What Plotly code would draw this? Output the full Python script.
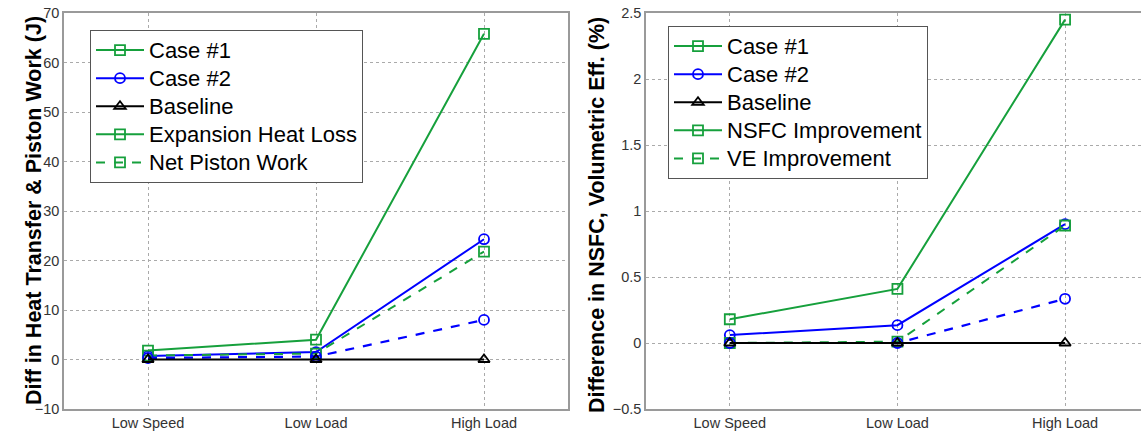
import plotly.graph_objects as go

categories = ["Low Speed", "Low Load", "High Load"]

# Left panel: difference in heat transfer & piston work (J)
case1_heat = [1.8, 4.0, 65.8]
case2_heat = [0.7, 1.5, 24.3]
case1_work = [0.8, 1.2, 21.8]
case2_work = [0.3, 0.6, 8.0]
baseline_left = [0.0, 0.0, 0.0]

# Right panel: difference in NSFC, volumetric efficiency (%)
case1_nsfc = [0.18, 0.41, 2.45]
case2_nsfc = [0.06, 0.135, 0.90]
case1_ve = [0.0, 0.01, 0.89]
case2_ve = [0.0, 0.0, 0.335]
baseline_right = [0.0, 0.0, 0.0]

left_legend = ["Case #1", "Case #2", "Baseline", "Expansion Heat Loss", "Net Piston Work"]
right_legend = ["Case #1", "Case #2", "Baseline", "NSFC Improvement", "VE Improvement"]

GREEN = "rgb(22,160,60)"
BLUE = "rgb(0,0,255)"
BLACK = "rgb(0,0,0)"

W, H = 1141, 433
fig = go.Figure()


def big(s):
    return '<span style="font-size:22px">' + s + "</span>"


def add_panel(xa, ya, leg, c1, c2, base, c1b, c2b, names):
    mk = dict(size=10, line=dict(width=1.8))
    fig.add_trace(go.Scatter(x=categories, y=c1, name=big(names[0]), mode="lines+markers",
                             line=dict(color=GREEN, width=2),
                             marker=dict(symbol="square-open", color=GREEN, **mk),
                             xaxis=xa, yaxis=ya, legend=leg))
    fig.add_trace(go.Scatter(x=categories, y=c2, name=big(names[1]), mode="lines+markers",
                             line=dict(color=BLUE, width=2),
                             marker=dict(symbol="circle-open", color=BLUE, **mk),
                             xaxis=xa, yaxis=ya, legend=leg))
    fig.add_trace(go.Scatter(x=categories, y=c1b, name=names[4], mode="lines+markers",
                             line=dict(color=GREEN, width=2, dash="dash"),
                             marker=dict(symbol="square-open", color=GREEN, **mk),
                             xaxis=xa, yaxis=ya, legend=leg, showlegend=False))
    fig.add_trace(go.Scatter(x=categories, y=c2b, name=names[1] + " (2)", mode="lines+markers",
                             line=dict(color=BLUE, width=2.2, dash="dash"),
                             marker=dict(symbol="circle-open", color=BLUE, **mk),
                             xaxis=xa, yaxis=ya, legend=leg, showlegend=False))
    fig.add_trace(go.Scatter(x=categories, y=base, name=big(names[2]), mode="lines+markers",
                             line=dict(color=BLACK, width=2),
                             marker=dict(symbol="triangle-up-open", color=BLACK, **mk),
                             xaxis=xa, yaxis=ya, legend=leg))
    # legend-only entries
    fig.add_trace(go.Scatter(x=[None], y=[None], name=big(names[3]), mode="lines+markers",
                             line=dict(color=GREEN, width=2),
                             marker=dict(symbol="square-open", color=GREEN, **mk),
                             xaxis=xa, yaxis=ya, legend=leg))
    fig.add_trace(go.Scatter(x=[None], y=[None], name=big(names[4]), mode="lines+markers",
                             line=dict(color=GREEN, width=2, dash="dash"),
                             marker=dict(symbol="square-open", color=GREEN, **mk),
                             xaxis=xa, yaxis=ya, legend=leg))


add_panel("x", "y", "legend", case1_heat, case2_heat, baseline_left, case1_work, case2_work, left_legend)
add_panel("x2", "y2", "legend2", case1_nsfc, case2_nsfc, baseline_right, case1_ve, case2_ve, right_legend)

top, bottom = 13, 409
ydom = [1 - bottom / H, 1 - top / H]
tickfont = dict(family="Liberation Sans, Arial", size=14.5, color="#333333")
grid = dict(showgrid=True, gridcolor="#aaaaaa", gridwidth=1, griddash="dot")
axline = dict(showline=True, linecolor="#9a9a9a", linewidth=1.5, zeroline=False, ticks="",
              automargin=False)
legfont = dict(size=19.3, family="Liberation Sans, Arial", color="black")

fig.update_layout(
    width=W, height=H, margin=dict(l=0, r=0, t=0, b=0, autoexpand=False),
    paper_bgcolor="white", plot_bgcolor="white",
    font=dict(family="Liberation Sans, Arial", color="black"),
    xaxis=dict(domain=[64 / W, 568 / W], type="category", range=[-0.5, 2.5],
               tickfont=tickfont, mirror=True, anchor="y", **grid, **axline),
    yaxis=dict(domain=ydom, range=[-10, 70], dtick=10, tickfont=tickfont, mirror=True,
               anchor="x", **grid, **axline),
    xaxis2=dict(domain=[646 / W, 1.0], type="category", range=[-0.5, 2.453],
                tickfont=tickfont, mirror=True, anchor="y2", **grid, **axline),
    yaxis2=dict(domain=ydom, range=[-0.5, 2.5], dtick=0.5, tickfont=tickfont, mirror=False,
                anchor="x2", **grid, **axline),
    legend=dict(x=90 / W, y=1 - 30 / H, xanchor="left", yanchor="top",
                bgcolor="white", bordercolor="#555555", borderwidth=1,
                font=legfont, itemwidth=48, traceorder="normal"),
    legend2=dict(x=668 / W, y=1 - 26 / H, xanchor="left", yanchor="top",
                 bgcolor="white", bordercolor="#555555", borderwidth=1,
                 font=legfont, itemwidth=48, traceorder="normal"),
    annotations=[
        dict(text="<b>Diff in Heat Transfer & Piston Work (J)</b>", xref="paper", yref="paper",
             x=20 / W, y=1 - 211 / H, textangle=-90, showarrow=False,
             font=dict(size=21.5, family="Liberation Sans, Arial", color="black")),
        dict(text="<b>Difference in NSFC, Volumetric Eff. (%)</b>", xref="paper", yref="paper",
             x=597 / W, y=1 - 215 / H, textangle=-90, showarrow=False,
             font=dict(size=21.5, family="Liberation Sans, Arial", color="black")),
    ],
)

fig.write_html("out.html", config={"displayModeBar": False},
               post_script="document.body.style.margin='0';document.body.style.overflow='hidden';")
